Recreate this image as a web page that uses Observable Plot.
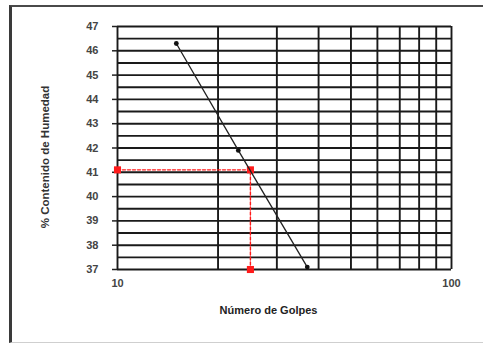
<!DOCTYPE html>
<html>
<head>
<meta charset="utf-8">
<script src="https://cdn.jsdelivr.net/npm/d3@7"></script>
<script src="https://cdn.jsdelivr.net/npm/@observablehq/plot@0.6"></script>
<style>
  html, body { margin: 0; padding: 0; background: #fff; }
  #wrap { position: relative; width: 483px; height: 345px; overflow: hidden; }
  #frame {
    position: absolute; left: 9px; top: 5px; width: 480px; height: 338px;
    border-left: 3px solid #3a3a3a; border-top: 2px solid #4a4a4a; border-bottom: 1px solid #cfcfcf;
    box-sizing: border-box;
  }
  #chart { position: absolute; left: 0; top: 0; }
</style>
</head>
<body>
<div id="wrap"><div id="frame"></div><div id="chart"></div></div>
<script>
// Ensayo de límite líquido: número de golpes vs contenido de humedad
const golpes = [15, 23, 37];
const humedad = [46.3, 41.9, 37.1];

// Lectura a 25 golpes
const golpesLL = 25;
const humedadLL = 41.1;

const xTicks = [10, 100];
const yTicks = [37, 38, 39, 40, 41, 42, 43, 44, 45, 46, 47];
const xGrid = [10, 20, 30, 40, 50, 60, 70, 80, 90, 100];
const yGrid = d3.range(37, 47.01, 0.5);

const puntos = golpes.map((g, i) => ({g, h: humedad[i]}));
const lectura = [
  {g: xTicks[0], h: humedadLL},
  {g: golpesLL, h: humedadLL},
  {g: golpesLL, h: yTicks[0]}
];

const font = "Liberation Sans, Arial, sans-serif";

const chart = Plot.plot({
  width: 483,
  height: 345,
  marginLeft: 117,
  marginRight: 32,
  marginTop: 26,
  marginBottom: 76,
  style: {fontFamily: font, fontSize: "11px", color: "#333", background: "transparent", overflow: "visible"},
  x: {type: "log", domain: [10, 100]},
  y: {domain: [37, 47]},
  marks: [
    Plot.ruleX(xGrid, {stroke: "#1a1a1a", strokeWidth: 1.9}),
    Plot.ruleY(yGrid, {stroke: "#1a1a1a", strokeWidth: 1.9}),
    Plot.axisY(yTicks, {tickSize: 5, tickPadding: 14, stroke: "#222", strokeWidth: 1.5, fontWeight: "bold", fill: "#444", label: null}),
    Plot.axisX(xTicks, {tickSize: 0, tickPadding: 10, fontWeight: "bold", fill: "#444", label: null, tickFormat: d => String(d)}),
    Plot.line(lectura, {x: "g", y: "h", stroke: "#ff1a1a", strokeWidth: 1.4, strokeDasharray: "3,2"}),
    Plot.dot(lectura, {x: "g", y: "h", symbol: "square", r: 4, fill: "#ff1a1a", stroke: "none"}),
    Plot.line(puntos, {x: "g", y: "h", stroke: "#222", strokeWidth: 1.3}),
    Plot.dot(puntos, {x: "g", y: "h", r: 2.4, fill: "#111", stroke: "none"}),
    Plot.text(["% Contenido de Humedad"], {frameAnchor: "left", textAnchor: "middle", dx: -72, dy: 9, rotate: -90, fontWeight: "bold", fontSize: 11.5, fill: "#333"}),
    Plot.text(["Número de Golpes"], {frameAnchor: "bottom", dx: -16, dy: 44, fontWeight: "bold", fontSize: 11, fill: "#222"})
  ]
});

document.getElementById("chart").appendChild(chart);
</script>
</body>
</html>
